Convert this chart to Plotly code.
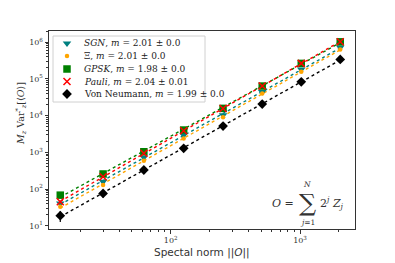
import numpy as np
import plotly.graph_objects as go

# ---- data ----
norm = [14, 30, 62, 126, 254, 510, 1022, 2046]
sgn = [40.7, 158, 731, 2960, 10400, 44800, 183000, 726000]
xi = [33, 129, 590, 2400, 9000, 40500, 157000, 641000]
gpsk = [68, 257, 1038, 4055, 15800, 64100, 266000, 1030000]
pauli = [45, 216, 940, 3880, 15600, 64000, 266000, 1030000]
vn = [18.7, 76, 330, 1285, 5200, 20700, 84000, 342000]
vn_err = [6, 18, 50, 150, 500, 1800, 7000, 25000]

names = ["<i>SGN</i>, <i>m</i> = 2.01 ± 0.0",
         "Ξ, <i>m</i> = 2.01 ± 0.0",
         "<i>GPSK</i>, <i>m</i> = 1.98 ± 0.0",
         "<i>Pauli</i>, <i>m</i> = 2.04 ± 0.01",
         "Von Neumann, <i>m</i> = 1.99 ± 0.0"]
series = [sgn, xi, gpsk, pauli, vn]
colors = ["#008080", "#ffa500", "#008000", "#ff0000", "#000000"]
symbols = ["triangle-down", "circle", "square", "x-thin", "diamond"]
sizes = [7.5, 4.5, 7.5, 7, 7.5]

x_ticks = [100, 1000]
x_ticktext = ["10<sup>2</sup>", "10<sup>3</sup>"]
y_ticks = [10, 100, 1000, 1e4, 1e5, 1e6]
y_ticktext = ["10<sup>1</sup>", "10<sup>2</sup>", "10<sup>3</sup>",
              "10<sup>4</sup>", "10<sup>5</sup>", "10<sup>6</sup>"]

L, R, T, B = 49, 355, 31, 229
serif = "DejaVu Serif"

def px(x):
    return (x - L) / float(R - L)

def py(y):
    return (B - y) / float(B - T)

fig = go.Figure()
lx = np.log10(norm)
# fit lines (dotted)
for s, c in zip(series, colors):
    p = np.polyfit(lx, np.log10(s), 1)
    fy = 10 ** np.polyval(p, lx)
    fig.add_trace(go.Scatter(x=norm, y=fy, mode="lines", showlegend=False,
                             line=dict(color=c, width=1.4, dash="dot"), hoverinfo="skip"))

def marker(c, sy, sz):
    mk = dict(color=c, symbol=sy, size=sz)
    mk["line"] = dict(color=c, width=1.5) if sy == "x-thin" else dict(width=0)
    return mk

# markers
for i, (s, c, sy, sz, nm) in enumerate(zip(series, colors, symbols, sizes, names)):
    kw = {}
    if i == 4:
        kw["error_y"] = dict(type="data", array=vn_err, color="black", thickness=1.2, width=0)
    fig.add_trace(go.Scatter(x=norm, y=s, mode="markers", name=nm, showlegend=False,
                             marker=marker(c, sy, sz), **kw))

# custom legend on pixel-overlay axes
fig.add_shape(type="rect", xref="x2", yref="y2", x0=53, x1=205, y0=36, y1=102,
              line=dict(color="#d0d0d0", width=1), fillcolor="white", layer="below")
rows = [43.3, 56, 69, 81.5, 94]
for c, sy, sz, nm, ry in zip(colors, symbols, sizes, names, rows):
    fig.add_trace(go.Scatter(x=[67], y=[ry], xaxis="x2", yaxis="y2", mode="markers",
                             marker=marker(c, sy, sz), showlegend=False, hoverinfo="skip"))
    fig.add_annotation(text=nm, xref="paper", yref="paper", x=px(82), y=py(ry), xanchor="left",
                       yanchor="middle", showarrow=False,
                       font=dict(family=serif, size=9, color="#222"))

fig.update_layout(
    width=395, height=263,
    margin=dict(l=L, r=395 - R, t=T, b=263 - B),
    paper_bgcolor="white", plot_bgcolor="white",
    showlegend=False,
    xaxis=dict(type="log", range=[1.059, 3.425], showgrid=False, zeroline=False,
               showline=True, linecolor="#333", linewidth=1, mirror=True,
               ticks="outside", ticklen=3.5, tickcolor="#333",
               tickvals=x_ticks, ticktext=x_ticktext,
               tickfont=dict(family=serif, size=8, color="#333"),
               minor=dict(ticks="outside", ticklen=2, tickcolor="#333",
                          tickvals=[20, 30, 40, 50, 60, 70, 80, 90, 200, 300, 400, 500,
                                    600, 700, 800, 900, 2000])),
    yaxis=dict(type="log", range=[0.91, 6.308], showgrid=False, zeroline=False,
               showline=True, linecolor="#333", linewidth=1, mirror=True,
               ticks="outside", ticklen=3.5, tickcolor="#333",
               tickvals=y_ticks, ticktext=y_ticktext,
               tickfont=dict(family=serif, size=8, color="#333"),
               minor=dict(ticks="outside", ticklen=2, tickcolor="#333",
                          tickvals=[v * k for v in [10, 100, 1000, 1e4, 1e5]
                                    for k in range(2, 10)] + [2e6])),
    xaxis2=dict(overlaying="x", range=[L, R], visible=False, fixedrange=True),
    yaxis2=dict(overlaying="y", range=[B, T], visible=False, fixedrange=True),
    font=dict(family=serif, color="#333"),
)
pa = dict(xref="paper", yref="paper", showarrow=False, xanchor="center", yanchor="middle")
fig.add_annotation(text="Spectal norm ||<i>O</i>||", x=px(202), y=py(253),
                   font=dict(family="DejaVu Sans", size=10.5, color="#333"), **pa)
fig.add_annotation(text="<i>M<sub>z</sub></i> Var<sup>*</sup><sub><i>z</i></sub>[⟨<i>O</i>⟩]",
                   x=px(21), y=py(114), textangle=-90,
                   font=dict(family=serif, size=9.5, color="#333"), **pa)

# formula annotation
fig.add_annotation(text="<i>O</i> =", x=px(283), y=py(203), font=dict(family=serif, size=11, color="#333"), **pa)
fig.add_annotation(text="∑", x=px(307), y=py(203), font=dict(family=serif, size=24, color="#333"), **pa)
fig.add_annotation(text="<i>N</i>", x=px(307), y=py(184.5), font=dict(family=serif, size=7.5, color="#333"), **pa)
fig.add_annotation(text="<i>j</i>=1", x=px(307), y=py(222.5), font=dict(family=serif, size=7.5, color="#333"), **pa)
fig.add_annotation(text="2<sup><i>j</i></sup> <i>Z<sub>j</sub></i>", x=px(332), y=py(203),
                   font=dict(family=serif, size=11, color="#333"), **pa)

fig.write_html("out.html", post_script="document.body.style.margin='0';",
               config={"displayModeBar": False})
